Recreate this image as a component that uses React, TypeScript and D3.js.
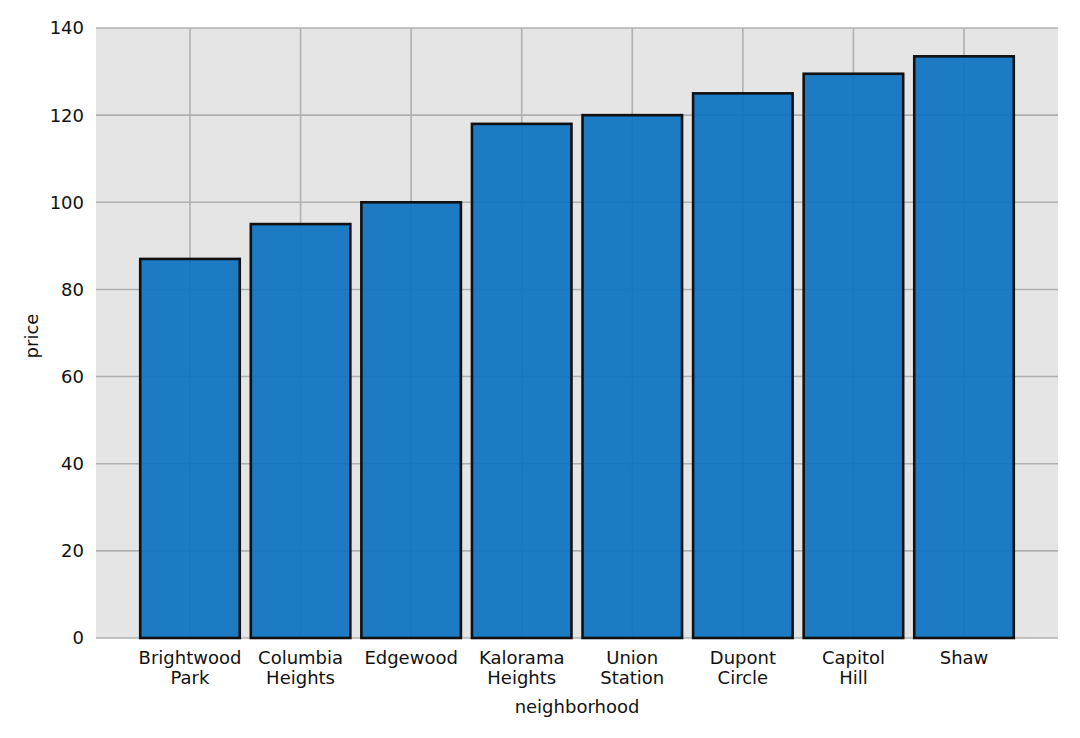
import React from "react";
import * as d3 from "d3";

const categories = [
  "Brightwood Park",
  "Columbia Heights",
  "Edgewood",
  "Kalorama Heights",
  "Union Station",
  "Dupont Circle",
  "Capitol Hill",
  "Shaw",
];
const categoryLines = [
  ["Brightwood", "Park"],
  ["Columbia", "Heights"],
  ["Edgewood"],
  ["Kalorama", "Heights"],
  ["Union", "Station"],
  ["Dupont", "Circle"],
  ["Capitol", "Hill"],
  ["Shaw"],
];
const prices = [87, 95, 100, 118, 120, 125, 129.5, 133.5];
const yTicks = [0, 20, 40, 60, 80, 100, 120, 140];

const W = 1080;
const H = 738;
const left = 96;
const right = 1058;
const top = 28;
const bottom = 638;
const font = "'DejaVu Sans', sans-serif";
const fs = 18;

export default function App() {
  const x = d3.scaleLinear().domain([-0.85, categories.length - 1 + 0.85]).range([left, right]);
  const y = d3.scaleLinear().domain([0, 140]).range([bottom, top]);
  const barW = x(0.9) - x(0);
  return (
    <svg width={W} height={H} style={{ position: "absolute", left: 0, top: 0 }}>
      <rect x={0} y={0} width={W} height={H} fill="#ffffff" />
      <rect x={left} y={top} width={right - left} height={bottom - top} fill="#e5e5e5" />
      {yTicks.map((t) => (
        <line key={"gy" + t} x1={left} x2={right} y1={y(t)} y2={y(t)} stroke="#b0b0b0" strokeWidth={1.6} />
      ))}
      {categories.map((c, i) => (
        <line key={"gx" + c} x1={x(i)} x2={x(i)} y1={top} y2={bottom} stroke="#b0b0b0" strokeWidth={1.6} />
      ))}
      {categories.map((c, i) => (
        <rect
          key={"b" + c}
          x={x(i) - barW / 2}
          y={y(prices[i])}
          width={barW}
          height={y(0) - y(prices[i])}
          fill="#0b72bf"
          fillOpacity={0.92}
          stroke="#111111"
          strokeWidth={2.6}
        />
      ))}
      {yTicks.map((t) => (
        <text key={"yt" + t} x={84} y={y(t)} dy="0.36em" textAnchor="end" fontFamily={font} fontSize={fs} fill="#111">
          {t}
        </text>
      ))}
      {categoryLines.map((lines, i) =>
        lines.map((l, j) => (
          <text
            key={"xt" + i + j}
            x={x(i)}
            y={663.5 + j * 20}
            textAnchor="middle"
            fontFamily={font}
            fontSize={fs}
            fill="#111"
          >
            {l}
          </text>
        ))
      )}
      <text x={577} y={713} textAnchor="middle" fontFamily={font} fontSize={fs} fill="#111">
        neighborhood
      </text>
      <text
        transform={`translate(38, ${(top + bottom) / 2 + 3}) rotate(-90)`}
        textAnchor="middle"
        fontFamily={font}
        fontSize={fs}
        fill="#111"
      >
        price
      </text>
    </svg>
  );
}
